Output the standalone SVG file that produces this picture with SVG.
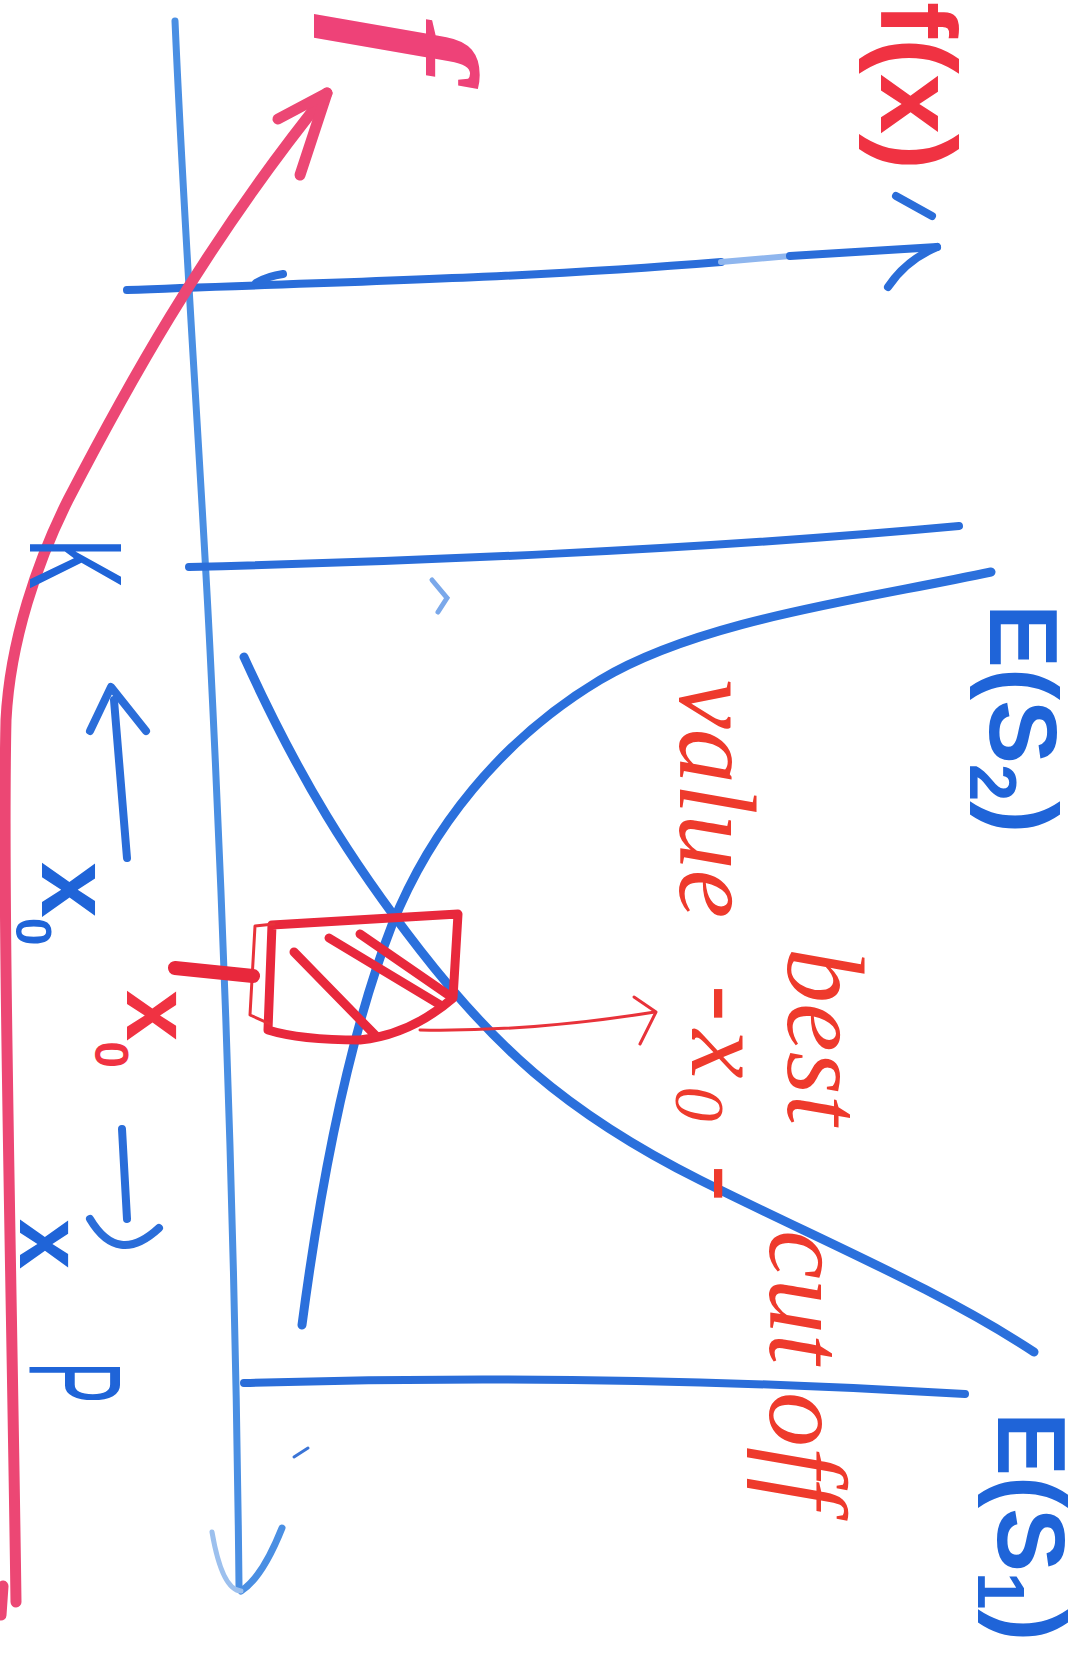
<svg xmlns="http://www.w3.org/2000/svg" width="1091" height="1662" viewBox="0 0 1091 1662">
<style>
.bl{fill:none;stroke:#2a6dd9;stroke-width:8;stroke-linecap:round;stroke-linejoin:round}
.ax{fill:none;stroke:#4a8fe3;stroke-width:7;stroke-linecap:round;stroke-linejoin:round}
.cv{fill:none;stroke:#2b70dc;stroke-width:9;stroke-linecap:round}
.pk{fill:none;stroke:#ec4774;stroke-width:11;stroke-linecap:round;stroke-linejoin:round}
.rd{fill:none;stroke:#e8283c;stroke-width:9;stroke-linecap:round;stroke-linejoin:round}
.rt{fill:none;stroke:#e8323a;stroke-width:3;stroke-linecap:round;stroke-linejoin:round}
.lb{fill:#1f64d8;font-family:"Liberation Sans",Arial,sans-serif;font-weight:bold}
.lk{fill:#1f64d8;font-family:"Liberation Sans",Arial,sans-serif}
.hr{fill:#ee3a2c;font-family:"Liberation Serif","Times New Roman",serif;font-style:italic}
.rr{fill:#f03242;font-family:"Liberation Sans",Arial,sans-serif;font-weight:bold}
</style>
<rect width="1091" height="1662" fill="#ffffff"/>
<g id="axes">
  <path class="ax" d="M175,21 C185,250 200,450 210,650 S235,1200 239,1586"/>
  <path class="ax" d="M282,1528 Q262,1578 241,1591"/>
  <path d="M241,1591 Q222,1590 212,1532" fill="none" stroke="#9cc0ee" stroke-width="5" stroke-linecap="round"/>
  <path class="bl" d="M127,290 C300,283 500,280 721,262"/>
  <path d="M721,262 L790,256" fill="none" stroke="#8fb6ee" stroke-width="6" stroke-linecap="round"/>
  <path class="bl" d="M790,256 L937,247"/>
  <path class="bl" d="M896,196 L932,216"/>
  <path class="bl" d="M937,247 Q906,260 888,287"/>
  <path class="bl" d="M256,283 Q268,276 283,274" stroke-width="5"/>
  <path class="bl" d="M189,567 C400,562 700,550 959,526"/>
  <path class="bl" d="M244,1383 C450,1377 700,1378 965,1394"/>
  <path d="M432,580 L447,598 L438,612" fill="none" stroke="#7aa8ea" stroke-width="5" stroke-linecap="round"/>
  <path d="M294,1457 L308,1448" fill="none" stroke="#3a74d6" stroke-width="3" stroke-linecap="round"/>
</g>
<g id="curves">
  <path class="cv" d="M991,572 C860,600 700,620 600,680 C500,740 430,830 392,925 C355,1020 325,1150 302,1325"/>
  <path class="cv" d="M244,657 C300,780 350,860 420,950 C490,1040 560,1110 700,1180 C820,1240 940,1290 1034,1352"/>
  <path class="pk" d="M16,1602 C12,1300 2,900 6,720 C10,640 38,560 68,500 C120,400 200,250 327,93"/>
  <path class="pk" d="M278,119 L327,93 L300,175"/>
  <path class="pk" d="M3,1586 L1,1615" stroke-width="6"/>
</g>
<g id="annotation">
  <path class="rd" d="M272,925 L458,914 L453,998 Q410,1035 360,1040 Q300,1040 268,1030 Z"/>
  <path class="rt" d="M274,924 L255,926 L250,1015 L270,1024"/>
  <path class="rd" d="M294,952 L376,1036"/>
  <path class="rd" d="M329,938 L442,1006"/>
  <path class="rd" d="M360,934 L447,994"/>
  <path d="M175,968 L253,976" fill="none" stroke="#e8283c" stroke-width="14" stroke-linecap="round"/>
  <path class="rt" d="M420,1030 Q530,1032 655,1012"/>
  <path class="rt" d="M634,997 L656,1012 L640,1044"/>
  <path class="bl" d="M90,731 L111,687 L146,731" stroke-width="7"/>
  <path class="bl" d="M114,700 L127,858" stroke-width="7"/>
  <path class="bl" d="M122,1129 L127,1219" stroke-width="7"/>
  <path class="bl" d="M90,1219 Q118,1266 159,1228" stroke-width="7"/>
</g>
<g id="labels">
  <text class="rr" font-size="108" transform="translate(881,2) rotate(90)">f(x)</text>
  <text class="hr" font-size="180" font-weight="bold" style="fill:#ee4278" transform="translate(352,14) rotate(90)">f</text>
  <text class="lb" font-size="96" transform="translate(990,604) rotate(90)">E(S<tspan dy="20" font-size="67">2</tspan><tspan dy="-20">)</tspan></text>
  <text class="lb" font-size="96" transform="translate(998,1412) rotate(90)">E(S<tspan dy="20" font-size="67">1</tspan><tspan dy="-20">)</tspan></text>
  <text class="lk" font-size="132" transform="translate(30,538) rotate(90) scale(0.58,1)">K</text>
  <text class="lk" font-size="132" transform="translate(30,1362) rotate(90) scale(0.47,1)">P</text>
  <text class="lb" font-size="100" transform="translate(42,862) rotate(90)">x<tspan dy="26" font-size="50">0</tspan></text>
  <text class="rr" font-size="92" transform="translate(127,990) rotate(90)">x<tspan dy="32" font-size="48">0</tspan></text>
  <text class="lb" font-size="90" transform="translate(20,1219) rotate(90)">x</text>
  <text class="hr" font-size="110" transform="translate(788,948) rotate(90)">best</text>
  <text class="hr" font-size="110" transform="translate(680,680) rotate(90)">value</text>
  <text class="hr" font-size="110" letter-spacing="8" transform="translate(692,985) rotate(90)">-x<tspan dy="16" font-size="70">0</tspan><tspan dy="-16"> -</tspan></text>
  <text class="hr" font-size="110" transform="translate(770,1230) rotate(90)">cut off</text>
</g>
</svg>
